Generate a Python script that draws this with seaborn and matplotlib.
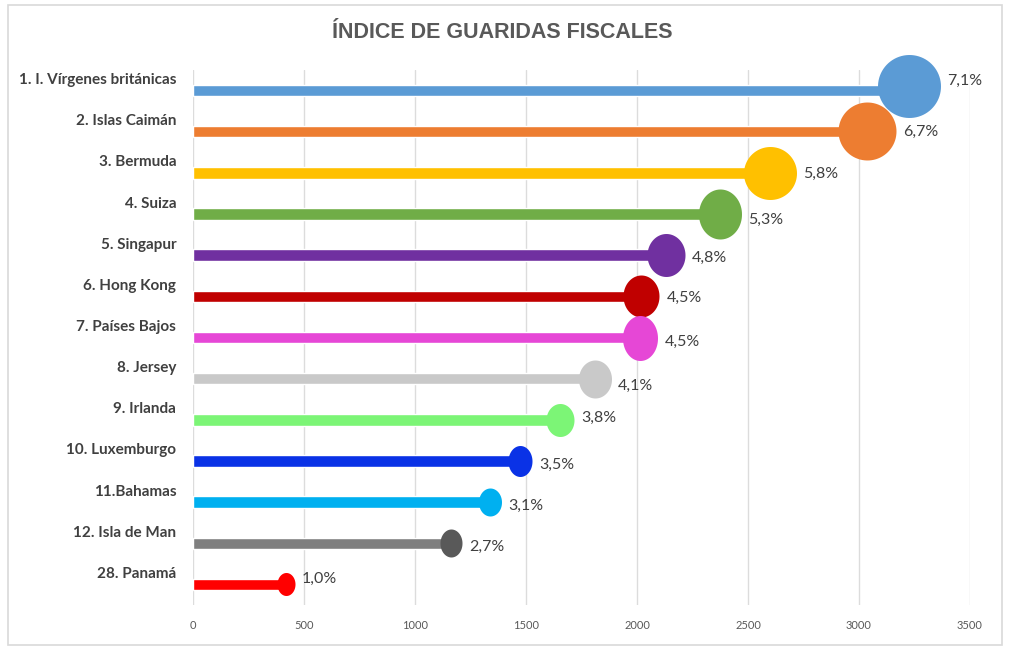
import numpy as np
import matplotlib
matplotlib.use('Agg')
import matplotlib.pyplot as plt
import matplotlib.transforms as mtransforms
from matplotlib.path import Path
from matplotlib.patches import Rectangle
import seaborn as sns

# data
paises = ['1. I. Vírgenes británicas', '2. Islas Caimán', '3. Bermuda', '4. Suiza',
          '5. Singapur', '6. Hong Kong', '7. Países Bajos', '8. Jersey', '9. Irlanda',
          '10. Luxemburgo', '11.Bahamas', '12. Isla de Man', '28. Panamá']
indice = [3224, 3036, 2599, 2374, 2129, 2020, 2014, 1809, 1655, 1475, 1338, 1162, 419]
cuota = ['7,1%', '6,7%', '5,8%', '5,3%', '4,8%', '4,5%', '4,5%', '4,1%', '3,8%',
         '3,5%', '3,1%', '2,7%', '1,0%']

# styles
bar_colors = ['#5b9bd5', '#ed7d31', '#ffc000', '#70ad47', '#7030a0', '#c00000', '#e647d6',
              '#c9c9c9', '#7cf576', '#0a32e6', '#00b0f0', '#7f7f7f', '#ff0000']
dot_colors = bar_colors[:11] + ['#595959', '#ff0000']
dot_w = [63, 58, 53, 43, 38, 36, 35, 33, 28, 24, 23, 22, 18]  # px
dot_h = [63, 58, 53, 50, 43, 42, 45, 38, 33, 31, 28, 28, 23]  # px
dot_dy = [-5, -1, 0, 0, 0, 0, 0, 0, 0, 0, 0, 0, 0]  # px, circle centre vs bar
lab_dy = [-10, 0, 1, 6, 3, 2, 4, 7, -2, 4, 4, 4, -6]  # px, label vs bar

sns.set_style('white')
plt.rcParams['font.family'] = ['Lato', 'DejaVu Sans']

fig = plt.figure(figsize=(10.24, 6.65), dpi=100)
ax = fig.add_axes([193/1024, 60/665, 777/1024, 535/665])

sns.barplot(x=indice, y=paises, hue=paises, palette=bar_colors, saturation=1,
            width=0.28, legend=False, orient='h', ax=ax, zorder=2)

theta = np.linspace(0, 2*np.pi, 80)
for i, v in enumerate(indice):
    w, h = dot_w[i], dot_h[i]
    verts = np.c_[0.5*w/h*np.cos(theta), 0.5*np.sin(theta)]
    up = mtransforms.ScaledTranslation(0, -dot_dy[i]/100, fig.dpi_scale_trans)
    ax.scatter([v], [i], marker=Path(verts, closed=True), s=(h*0.72)**2,
               color=dot_colors[i], linewidths=0, zorder=3, clip_on=False,
               transform=ax.transData + up)
    ax.annotate(cuota[i], (v, i), xytext=((w/2 + 7)*0.72, -lab_dy[i]*0.72),
                textcoords='offset points', ha='left', va='center',
                fontsize=11.5, color='#404040')

ax.set_xlim(0, 3500)
ax.set_ylim(12.5, -0.5)
ax.set_xticks(range(0, 3501, 500))
ax.grid(axis='x', color='#dcdcdc', lw=1)
ax.grid(axis='y', visible=False)
ax.set_axisbelow(True)
for s in ax.spines.values():
    s.set_visible(False)
ax.set_xlabel('')
ax.set_ylabel('')
ax.tick_params(axis='x', length=0, pad=11, labelsize=8, labelcolor='#595959')
ax.tick_params(axis='y', length=0, pad=12)
shift = mtransforms.ScaledTranslation(0, 12/100, fig.dpi_scale_trans)
for t in ax.get_yticklabels():
    t.set_fontweight('bold')
    t.set_fontsize(11)
    t.set_color('#404040')
    t.set_transform(t.get_transform() + shift)

fig.text(0.49, 1 - 33/665, 'ÍNDICE DE GUARIDAS FISCALES', ha='center', va='center',
         fontsize=15.5, fontweight='bold', color='#595959', family='Liberation Sans')

fig.patches.append(Rectangle((8/1024, 20/665), 994/1024, 640/665, transform=fig.transFigure,
                             fill=False, edgecolor='#d9d9d9', lw=1.2))

fig.savefig('out.png', dpi=100)
